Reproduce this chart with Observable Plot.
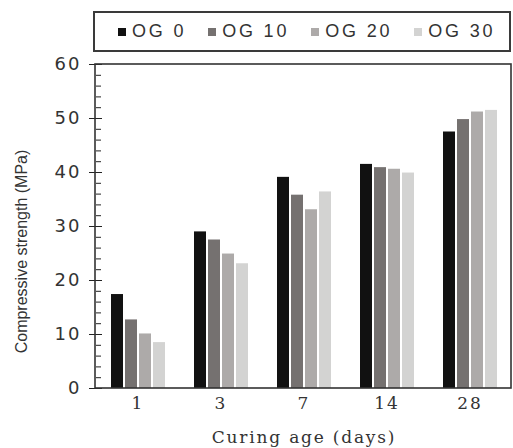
<!DOCTYPE html>
<html>
<head>
<meta charset="utf-8">
<script src="https://cdn.jsdelivr.net/npm/d3@7"></script>
<script src="https://cdn.jsdelivr.net/npm/@observablehq/plot@0.6"></script>
<style>
  html, body { margin: 0; padding: 0; background: #fff; }
  #wrap { position: relative; width: 513px; height: 448px; }
  #legend {
    position: absolute; left: 93px; top: 11px; width: 418px; height: 41px;
    box-sizing: border-box; border: 2px solid #3a3a3a; z-index: 2; background: #fff;
    display: flex; align-items: center; padding-left: 23px; gap: 22px;
    font-family: "Liberation Sans", sans-serif; font-size: 18px; letter-spacing: 2.8px; color: #333;
  }
  #legend .item { display: flex; align-items: center; gap: 6px; }
  #legend .sw { width: 8px; height: 8px; display: inline-block; }
  #chart { position: absolute; left: 0; top: 40px; z-index: 1; }
  #chart g[aria-label="fx-axis tick label"] text { letter-spacing: 2px; }
  #chart g[aria-label="y-axis tick label"] text { letter-spacing: 2px; }
</style>
</head>
<body>
<div id="wrap">
  <div id="legend"></div>
  <div id="chart"></div>
</div>
<script>
const ages = ["1", "3", "7", "14", "28"];
const series = ["OG 0", "OG 10", "OG 20", "OG 30"];
const og0 = [17.4, 29.0, 39.1, 41.5, 47.5];
const og10 = [12.7, 27.5, 35.8, 40.9, 49.8];
const og20 = [10.1, 24.9, 33.1, 40.6, 51.2];
const og30 = [8.5, 23.1, 36.4, 39.9, 51.5];
const colors = ["#111111", "#757170", "#adaaa9", "#d3d3d2"];
const yMajor = [0, 10, 20, 30, 40, 50, 60];
const yMinor = d3.range(0, 61, 2);
const xTitle = "Curing age (days)";
const yTitle = "Compressive strength (MPa)";

const values = [og0, og10, og20, og30];
const data = [];
series.forEach((s, i) => ages.forEach((a, j) => data.push({age: a, series: s, value: values[i][j]})));

// legend
const legend = document.getElementById("legend");
series.forEach((s, i) => {
  const it = document.createElement("span");
  it.className = "item";
  const sw = document.createElement("span");
  sw.className = "sw";
  sw.style.background = colors[i];
  it.appendChild(sw);
  it.appendChild(document.createTextNode(s));
  legend.appendChild(it);
});

const chart = Plot.plot({
  width: 513,
  height: 408,
  marginTop: 24,
  marginBottom: 60,
  marginLeft: 95,
  marginRight: 2,
  style: {fontFamily: "DejaVu Serif, serif", fontSize: "17px", color: "#333", background: "transparent"},
  fx: {domain: ages, padding: 0, label: null},
  x: {domain: series, paddingInner: 0.15, paddingOuter: 0.95, axis: null},
  y: {domain: [0, 60], axis: null},
  color: {domain: series, range: colors},
  marks: [
    Plot.barY(data, {fx: "age", x: "series", y: "value", fill: "series"}),
    Plot.axisFx({anchor: "bottom", tickSize: 0, tickPadding: 8, label: null, fontSize: 17,
      fontFamily: "DejaVu Serif, serif"}),
    Plot.axisY({ticks: yMinor, tickSize: -5, text: null, label: null, stroke: "#222"}),
    Plot.axisY({ticks: yMajor, tickSize: -6, text: null, label: null, stroke: "#222"}),
    Plot.axisY({ticks: yMajor, tickSize: 7, tickPadding: 8, label: null, stroke: "#222",
      fontFamily: "DejaVu Sans, sans-serif", fontSize: 18}),
    Plot.text([{fx: ages[0], t: yTitle}], {fx: "fx", text: "t", frameAnchor: "left", rotate: -90, dx: -75, dy: 25,
      textAnchor: "middle", fontFamily: "Liberation Sans, sans-serif", fontSize: 16, fill: "#333"}),
    Plot.text([{fx: ages[2], t: xTitle}], {fx: "fx", text: "t", frameAnchor: "bottom", dy: 54,
      textAnchor: "middle", fontFamily: "DejaVu Serif, serif", fontSize: 17, fill: "#333"})
  ]
});

document.getElementById("chart").appendChild(chart);

// plot frame drawn from the scales' ranges
const svg = d3.select(chart.tagName.toLowerCase() === "svg" ? chart : chart.querySelector("svg"));
svg.selectAll("text").filter(function () { return this.textContent === xTitle; })
  .style("letter-spacing", "1.8px");
const fxr = chart.scale("fx").range;
const yr = chart.scale("y").range;
svg.append("rect")
  .attr("x", Math.min(...fxr))
  .attr("y", Math.min(...yr))
  .attr("width", Math.abs(fxr[1] - fxr[0]))
  .attr("height", Math.abs(yr[1] - yr[0]))
  .attr("fill", "none")
  .attr("stroke", "#333")
  .attr("stroke-width", 1.6);
</script>
</body>
</html>
